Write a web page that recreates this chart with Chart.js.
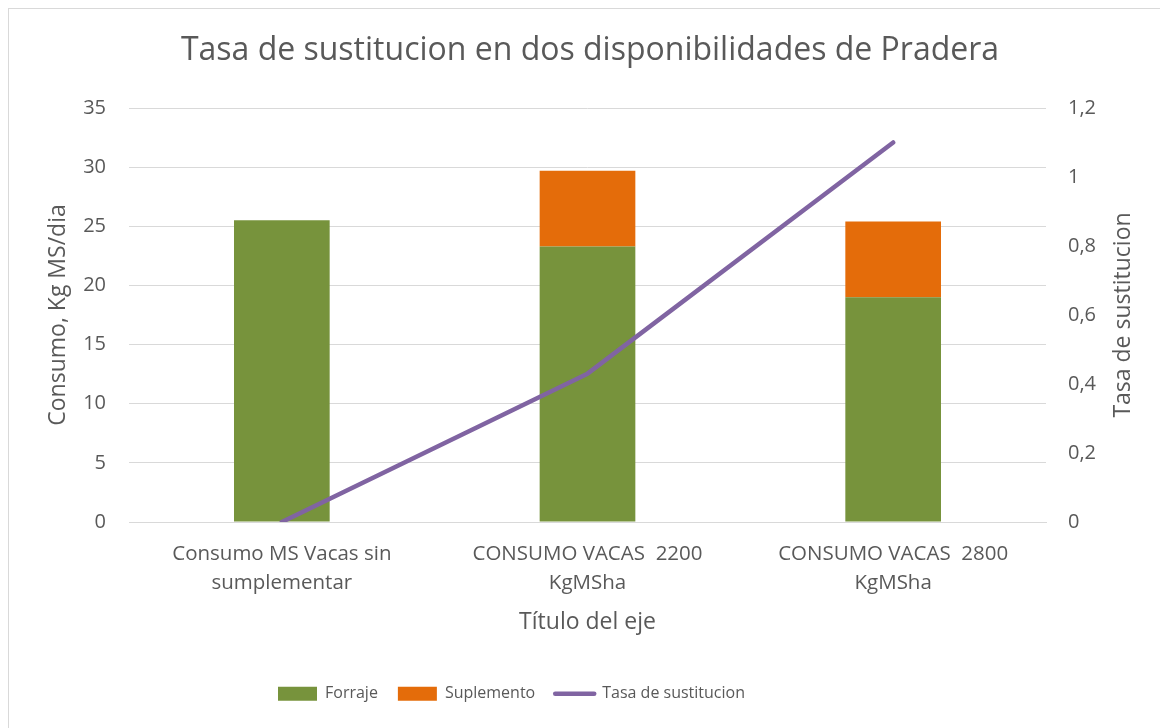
<!DOCTYPE html>
<html>
<head>
<meta charset="utf-8">
<script src="https://cdn.jsdelivr.net/npm/chart.js@4/dist/chart.umd.min.js"></script>
<style>
  html, body { margin: 0; padding: 0; background: #ffffff; }
  #wrap { position: relative; width: 1160px; height: 728px; overflow: hidden; background: #ffffff; }
  #frame { position: absolute; left: 8px; top: 8px; width: 1200px; height: 800px; border: 1px solid #d9d9d9; box-sizing: border-box; }
  #c { position: absolute; left: 0; top: 0; }
</style>
</head>
<body>
<div id="wrap">
  <div id="frame"></div>
  <canvas id="c" width="1160" height="728"></canvas>
</div>
<script>
// ---- data ----
const categories = [
  ["Consumo MS Vacas sin", "sumplementar"],
  ["CONSUMO VACAS  2200", "KgMSha"],
  ["CONSUMO VACAS  2800", "KgMSha"]
];
const forraje = [25.5, 23.3, 19.0];
const suplemento = [0, 6.4, 6.4];
const tasaSustitucion = [0, 0.43, 1.10];
const leftTicks = [0, 5, 10, 15, 20, 25, 30, 35];
const rightTicks = [0, 0.2, 0.4, 0.6, 0.8, 1, 1.2];

const chartTitle = "Tasa de sustitucion en dos disponibilidades de Pradera";
const xTitle = "Título del eje";
const yTitle = "Consumo, Kg MS/dia";
const y1Title = "Tasa de sustitucion";

const TEXT = "#595959";
const GRID = "#d9d9d9";
const FONT = "'Open Sans', sans-serif";

Chart.defaults.font.family = FONT;
Chart.defaults.color = TEXT;

const fmt = v => String(Math.round(v * 10) / 10).replace('.', ',');

const shiftPlugin = {
  id: 'shiftPlugin',
  afterUpdate(chart) {
    const lg = chart.legend;
    if (lg && lg.legendHitBoxes && lg.legendHitBoxes.length) {
      const d = 278 - lg.legendHitBoxes[0].left;
      lg.left += d; lg.right += d;
    }
    const tb = chart.titleBlock;
    if (tb) { tb.left += 6; tb.right += 6; }
  }
};

const rightTitlePlugin = {
  id: 'rightTitle',
  afterDraw(chart) {
    const ctx = chart.ctx;
    const a = chart.chartArea;
    ctx.save();
    ctx.font = "23px " + FONT;
    ctx.fillStyle = TEXT;
    ctx.textAlign = 'center';
    ctx.textBaseline = 'middle';
    ctx.translate(chart.scales.y1.right - 37, (a.top + a.bottom) / 2);
    ctx.rotate(-Math.PI / 2);
    ctx.fillText(y1Title, 0, 0);
    ctx.restore();
  }
};

new Chart(document.getElementById('c'), {
  type: 'bar',
  data: {
    labels: categories,
    datasets: [
      {
        type: 'bar', label: 'Forraje', data: forraje,
        backgroundColor: '#77933c', borderWidth: 0,
        yAxisID: 'y', stack: 's', order: 1,
        barPercentage: 0.313, categoryPercentage: 1.0
      },
      {
        type: 'bar', label: 'Suplemento', data: suplemento,
        backgroundColor: '#e46c0a', borderWidth: 0,
        yAxisID: 'y', stack: 's', order: 1,
        barPercentage: 0.313, categoryPercentage: 1.0
      },
      {
        type: 'line', label: 'Tasa de sustitucion', data: tasaSustitucion,
        borderColor: '#8064a2', backgroundColor: '#8064a2',
        borderWidth: 4.5, borderCapStyle: 'round', borderJoinStyle: 'round',
        pointRadius: 0, pointHoverRadius: 0, tension: 0, fill: false,
        yAxisID: 'y1', order: 0
      }
    ]
  },
  options: {
    responsive: false,
    animation: false,
    events: [],
    layout: { padding: { left: 8, right: 0, top: 0, bottom: 16.3 } },
    plugins: {
      tooltip: { enabled: false },
      title: {
        display: true, text: chartTitle, color: TEXT,
        font: { size: 32, weight: 'normal', lineHeight: 1.2 },
        padding: { top: 32.1, bottom: 37.5 }
      },
      legend: {
        display: true, position: 'bottom',
        labels: {
          color: TEXT, font: { size: 16 }, padding: 20,
          usePointStyle: true, pointStyleWidth: 39, boxHeight: 14,
          sort: (a, b) => a.datasetIndex - b.datasetIndex,
          generateLabels(chart) {
            const items = Chart.defaults.plugins.legend.labels.generateLabels(chart);
            items.forEach(it => {
              const ds = chart.data.datasets[it.datasetIndex];
              it.pointStyle = ds.type === 'line' ? 'line' : 'rect';
              if (ds.type === 'line') { it.lineCap = 'round'; it.lineWidth = 4.5; it.strokeStyle = '#8064a2'; }
              else { it.lineWidth = 0; }
            });
            return items;
          }
        }
      }
    },
    scales: {
      x: {
        stacked: true,
        grid: { display: false, drawTicks: false },
        border: { display: true, color: GRID, width: 1 },
        ticks: { color: TEXT, font: { size: 20.5, lineHeight: 1.41 }, padding: 17.6, maxRotation: 0, autoSkip: false },
        title: { display: true, text: xTitle, color: TEXT, font: { size: 23, lineHeight: 1.2 }, padding: { top: 4, bottom: 29.2 } },
        afterFit: s => { s.height = 143.7; }
      },
      y: {
        type: 'linear', position: 'left', stacked: true,
        min: 0, max: 35,
        afterBuildTicks: s => { s.ticks = leftTicks.map(v => ({ value: v })); },
        grid: { color: GRID, lineWidth: 1, drawTicks: false },
        border: { display: false },
        ticks: { color: TEXT, font: { size: 20 }, padding: 23, callback: v => fmt(v) },
        title: { display: true, text: yTitle, color: TEXT, font: { size: 23, lineHeight: 1.2 }, padding: { top: 36.6, bottom: 0 } },
        afterFit: s => { s.width = 121; }
      },
      y1: {
        type: 'linear', position: 'right', stacked: false,
        min: 0, max: 1.2,
        afterBuildTicks: s => { s.ticks = rightTicks.map(v => ({ value: v })); },
        grid: { display: false, drawTicks: false },
        border: { display: false },
        ticks: { color: TEXT, font: { size: 20 }, padding: 22, callback: v => fmt(v) },
        afterFit: s => { s.width = 114; }
      }
    }
  },
  plugins: [shiftPlugin, rightTitlePlugin]
});
</script>
</body>
</html>
